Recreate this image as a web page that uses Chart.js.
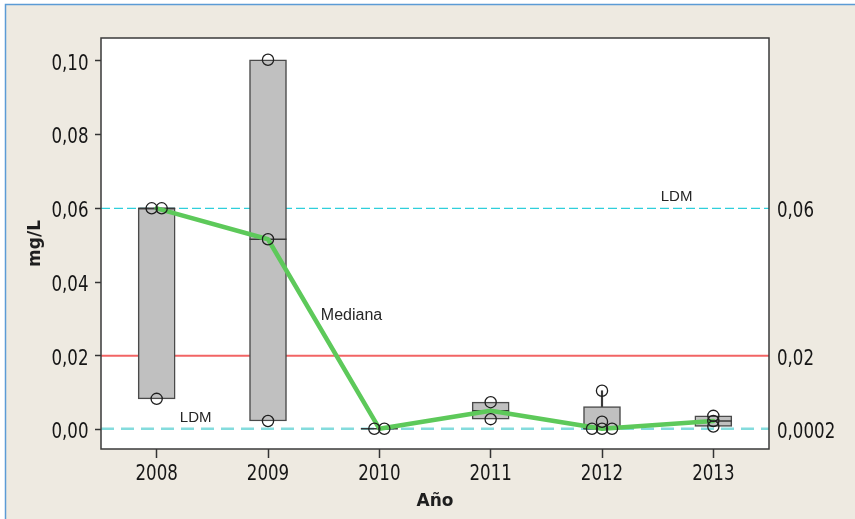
<!DOCTYPE html>
<html>
<head>
<meta charset="utf-8">
<script src="https://cdn.jsdelivr.net/npm/chart.js@4.4.1/dist/chart.umd.min.js"></script>
<style>
  html, body { margin: 0; padding: 0; background: #ffffff; }
  #wrap { width: 855px; height: 519px; }
</style>
</head>
<body>
<div id="wrap"><canvas id="c" width="855" height="519"></canvas></div>
<script>
// Years on the horizontal axis
const years = ['2008', '2009', '2010', '2011', '2012', '2013'];

// Individual measurements per year (mg/L)
const values2008 = [0.0600, 0.0600, 0.0083];
const values2009 = [0.1003, 0.0516, 0.0023];
const values2010 = [0.0002, 0.0002];
const values2011 = [0.0074, 0.0028];
const values2012 = [0.0105, 0.0021, 0.0002, 0.0002, 0.0002];
const values2013 = [0.0037, 0.0023, 0.0008];
const samples = [values2008, values2009, values2010, values2011, values2012, values2013];

// Box limits (first and third quartile), medians and whiskers
const boxLow  = [0.0083, 0.0023, 0.0002, 0.0028, 0.0002, 0.0008];
const boxHigh = [0.0600, 0.1003, 0.0002, 0.0074, 0.0062, 0.0037];
const medians = [0.0600, 0.0516, 0.0002, 0.0051, 0.0002, 0.0023];
const whiskerLow  = [null, null, null, null, 0.0062, null];
const whiskerHigh = [null, null, null, null, 0.0105, null];

// Axis ticks
const yTicks = [0.00, 0.02, 0.04, 0.06, 0.08, 0.10];
const rightTickValues = [0.06, 0.02, 0.0002];
const rightTickLabels = ['0,06', '0,02', '0,0002'];
const yRange = [-0.0053, 0.1062];

// Reference levels: upper LDM, guideline value, lower LDM
const refValues = [0.06, 0.02, 0.0002];

// Tick labels use a tall, narrow face: condensed glyphs slightly stretched vertically
const TICK_FONT = '18.5px "DejaVu Sans Condensed", "DejaVu Sans", sans-serif';
const TICK_STRETCH = 1.12;

// Identical values inside one year are spread sideways so every circle stays visible
function spreadPoints(list, idx) {
  const counts = new Map();
  list.forEach(v => { const k = v.toFixed(5); counts.set(k, (counts.get(k) || 0) + 1); });
  const seen = new Map();
  return list.map(v => {
    const k = v.toFixed(5);
    const n = counts.get(k);
    const j = seen.get(k) || 0;
    seen.set(k, j + 1);
    return { x: idx + (j - (n - 1) / 2) * 0.09, y: v };
  });
}

const pointData = samples.flatMap((list, i) => spreadPoints(list, i));
const boxData = years.map((_, i) => ({ x: i, y: [boxLow[i], boxHigh[i]] }));
const whiskerData = years.map((_, i) => whiskerLow[i] == null ? null : ({ x: i, y: [whiskerLow[i], whiskerHigh[i]] })).filter(Boolean);
const medianData = years.map((_, i) => ({ x: i, y: medians[i] }));

const refStyles = [
  { color: '#2FCFDB', width: 1.3, dash: [9, 4] },
  { color: '#F26464', width: 1.8, dash: [] },
  { color: '#84DCDD', width: 2.5, dash: [13, 7] }
];

function drawTickLabels(ctx, scale, place) {
  scale.ticks.forEach(t => {
    const p = scale.getPixelForValue(t.value);
    const { x, y, align } = place(p);
    ctx.save();
    ctx.translate(x, y);
    ctx.scale(1, TICK_STRETCH);
    ctx.textAlign = align;
    ctx.textBaseline = 'middle';
    ctx.fillText(t.label, 0, 0);
    ctx.restore();
  });
}

const decor = {
  id: 'decor',
  beforeDraw(chart) {
    const { ctx, chartArea: a, width, height } = chart;
    ctx.save();
    ctx.fillStyle = '#ffffff';
    ctx.fillRect(0, 0, width, height);
    ctx.fillStyle = '#EEEAE1';
    ctx.fillRect(5, 4, width - 5, height - 4);
    ctx.fillStyle = '#ffffff';
    ctx.fillRect(a.left, a.top, a.right - a.left, a.bottom - a.top);
    ctx.strokeStyle = '#5B9BD5';
    ctx.lineWidth = 1.5;
    ctx.beginPath();
    ctx.moveTo(5.5, height);
    ctx.lineTo(5.5, 4.5);
    ctx.lineTo(width, 4.5);
    ctx.stroke();
    ctx.restore();
  },
  beforeDatasetsDraw(chart) {
    const { ctx, chartArea: a, scales } = chart;
    ctx.save();
    ctx.beginPath();
    ctx.rect(a.left, a.top, a.right - a.left, a.bottom - a.top);
    ctx.clip();
    refValues.forEach((v, i) => {
      const s = refStyles[i];
      const y = scales.y.getPixelForValue(v);
      ctx.strokeStyle = s.color;
      ctx.lineWidth = s.width;
      ctx.setLineDash(s.dash);
      ctx.beginPath();
      ctx.moveTo(a.left, y);
      ctx.lineTo(a.right, y);
      ctx.stroke();
    });
    ctx.restore();
  },
  afterDatasetsDraw(chart) {
    const { ctx, chartArea: a, scales } = chart;
    const xs = scales.x, ys = scales.y;
    ctx.save();
    ctx.fillStyle = '#262626';
    ctx.textAlign = 'center';
    ctx.textBaseline = 'middle';
    ctx.font = '15px "Liberation Sans", Arial, sans-serif';
    ctx.fillText('LDM', xs.getPixelForValue(4.67), ys.getPixelForValue(refValues[0]) - 11);
    ctx.fillText('LDM', xs.getPixelForValue(0.35), ys.getPixelForValue(refValues[2]) - 11);
    ctx.font = '16px "Liberation Sans", Arial, sans-serif';
    ctx.fillText('Mediana', xs.getPixelForValue(1.75), ys.getPixelForValue(0.031));
    ctx.strokeStyle = '#3A3A3A';
    ctx.lineWidth = 1.5;
    ctx.strokeRect(a.left, a.top, a.right - a.left, a.bottom - a.top);

    // tick labels of the three axes
    ctx.font = TICK_FONT;
    ctx.fillStyle = '#161616';
    drawTickLabels(ctx, scales.y, p => ({ x: scales.y.right - 12.5, y: p + 3.5, align: 'right' }));
    drawTickLabels(ctx, scales.y2, p => ({ x: scales.y2.left + 8, y: p + 3.5, align: 'left' }));
    drawTickLabels(ctx, xs, p => ({ x: p, y: xs.top + 26, align: 'center' }));
    ctx.restore();
  }
};

new Chart(document.getElementById('c'), {
  type: 'bar',
  data: {
    datasets: [
      {
        type: 'scatter',
        data: pointData,
        pointStyle: 'circle',
        pointRadius: 5.6,
        pointBorderWidth: 1.3,
        pointBorderColor: '#1E1E1E',
        pointBackgroundColor: 'rgba(0,0,0,0)',
        order: 0
      },
      {
        type: 'line',
        data: medianData,
        borderColor: '#5DC95A',
        borderWidth: 4.5,
        borderJoinStyle: 'round',
        borderCapStyle: 'round',
        tension: 0,
        pointRadius: 0,
        fill: false,
        order: 1
      },
      {
        type: 'scatter',
        data: medianData,
        pointStyle: 'line',
        pointRadius: 18.5,
        pointBorderWidth: 1.5,
        pointBorderColor: '#3A3A3A',
        order: 2
      },
      {
        type: 'bar',
        data: whiskerData,
        barThickness: 1.5,
        grouped: false,
        backgroundColor: '#3A3A3A',
        borderWidth: 0,
        order: 3
      },
      {
        type: 'bar',
        data: boxData,
        barThickness: 37,
        grouped: false,
        backgroundColor: '#C0C0C0',
        borderColor: '#4A4A4A',
        borderWidth: 1.5,
        borderSkipped: false,
        order: 4
      }
    ]
  },
  options: {
    responsive: false,
    animation: false,
    devicePixelRatio: 1,
    layout: { padding: { top: 38, left: 0, right: 0, bottom: 0 } },
    plugins: { legend: { display: false }, tooltip: { enabled: false } },
    scales: {
      x: {
        type: 'linear',
        min: -0.5,
        max: 5.5,
        offset: false,
        afterBuildTicks: s => { s.ticks = years.map((_, i) => ({ value: i })); },
        afterFit: s => { s.height = 70; },
        grid: { offset: false, drawOnChartArea: false, drawTicks: true, tickLength: 9, tickColor: '#333333', tickWidth: 1.5 },
        border: { display: false },
        ticks: { display: false, callback: v => years[v], autoSkip: false },
        title: {
          display: true,
          text: 'Año',
          font: { family: '"DejaVu Sans", sans-serif', size: 17, weight: 'bold' },
          color: '#1E1E1E',
          padding: { top: 0, bottom: 7 }
        }
      },
      y: {
        position: 'left',
        min: yRange[0],
        max: yRange[1],
        afterBuildTicks: s => { s.ticks = yTicks.map(v => ({ value: v })); },
        afterFit: s => { s.width = 101; },
        grid: { drawOnChartArea: false, drawTicks: true, tickLength: 6, tickColor: '#333333', tickWidth: 1.5 },
        border: { display: false },
        ticks: { display: false, callback: v => v.toFixed(2).replace('.', ',') },
        title: {
          display: true,
          text: 'mg/L',
          font: { family: '"DejaVu Sans", sans-serif', size: 17, weight: 'bold' },
          color: '#1E1E1E',
          padding: { top: 25, bottom: 0 }
        }
      },
      y2: {
        position: 'right',
        min: yRange[0],
        max: yRange[1],
        afterBuildTicks: s => { s.ticks = rightTickValues.map(v => ({ value: v })); },
        afterFit: s => { s.width = 86; },
        grid: { display: false, drawTicks: false, drawOnChartArea: false },
        border: { display: false },
        ticks: { display: false, callback: (v, i) => rightTickLabels[i] }
      }
    }
  },
  plugins: [decor]
});
</script>
</body>
</html>
